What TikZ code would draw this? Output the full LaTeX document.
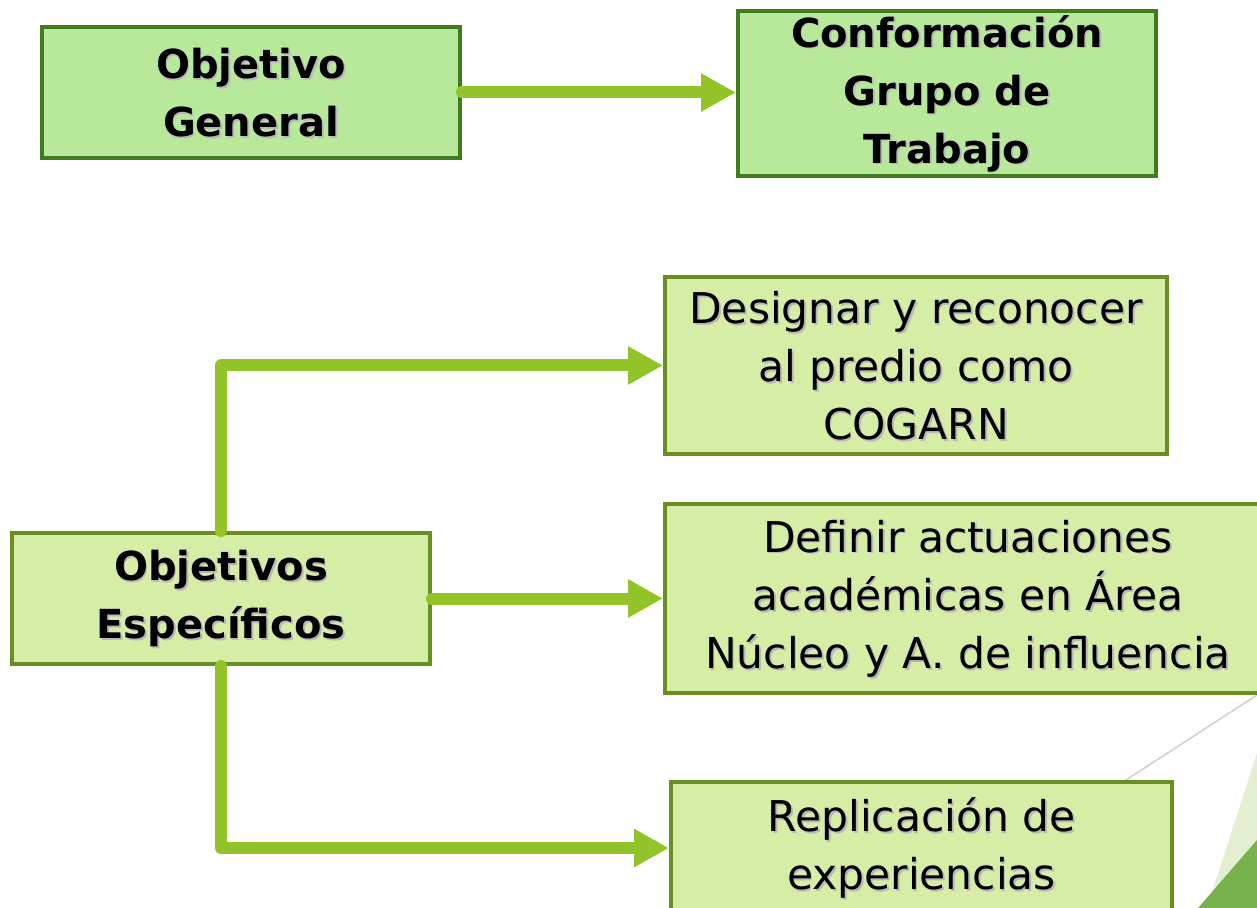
\documentclass[tikz,border=0pt]{standalone}
\usepackage{fontspec}
\setmainfont{DejaVu Sans}
\usetikzlibrary{arrows.meta}
\usetikzlibrary{positioning}
\definecolor{topfill}{HTML}{B8E99A}
\definecolor{topline}{HTML}{3F7D1C}
\definecolor{subfill}{HTML}{D6EDA5}
\definecolor{subline}{HTML}{6B8E23}
\definecolor{arrowgreen}{HTML}{92C328}
\definecolor{decolight}{HTML}{E3EFCF}
\definecolor{decodark}{HTML}{78B24C}
\newcommand\shtxt[1]{\leavevmode\rlap{\hspace{0.9pt}\raisebox{-0.9pt}[0pt][0pt]{\textcolor{black!28}{#1}}}#1}

\begin{document}
\begin{tikzpicture}[x=0.5pt,y=-0.5pt,
    topbox/.style={draw=topline,fill=topfill,line width=2pt,align=center,inner sep=0pt,
      font=\fontsize{20}{29}\selectfont\bfseries},
    subbox/.style={draw=subline,fill=subfill,line width=2pt,align=center,inner sep=0pt,
      font=\fontsize{21.2}{29}\selectfont},
    link/.style={draw=arrowgreen,line width=6pt,line cap=round,line join=round,
      -{Triangle[length=17.5pt,width=18pt]}}]
  \useasboundingbox (0,0) rectangle (1257,908);

  \draw [draw=black!18,line width=0.8pt] (1123,782) -- (1257,695);
  \fill [decolight] (1257,753) -- (1207,908) -- (1257,908) -- cycle;
  \fill [decodark] (1257,840) -- (1198,908) -- (1257,908) -- cycle;

  \node (gen) [topbox,minimum width=209pt,minimum height=65.5pt] at (251,92.5) {\shtxt{Objetivo}\\\shtxt{General}};
  \node (conf) [topbox,minimum width=209pt,minimum height=82.5pt] at (947,93.5) {\shtxt{Conformación}\\\shtxt{Grupo de}\\\shtxt{Trabajo}};

  \node (esp) [subbox,font=\fontsize{20}{29}\selectfont\bfseries,minimum width=209pt,minimum height=65.5pt] at (221,598.5) {\shtxt{Objetivos}\\\shtxt{Específicos}};
  \node (desig) [subbox,minimum width=251pt,minimum height=88.5pt] at (916,365.5) {\shtxt{Designar y reconocer}\\\shtxt{al predio como}\\\shtxt{COGARN}};
  \node (def) [subbox,minimum width=303pt,minimum height=94.5pt] at (968,598.5) {\shtxt{Definir actuaciones}\\\shtxt{académicas en Área}\\\shtxt{Núcleo y A. de influencia}};
  \node (repl) [subbox,minimum width=250.5pt,minimum height=66pt] at (921.5,848) {\shtxt{Replicación de}\\\shtxt{experiencias}};

  \draw [link] (gen.east) -- (gen.east -| conf.west);
  \draw [link] (esp.north) |- (desig.west);
  \draw [link] (esp.east) -- (def.west);
  \draw [link] (esp.south) |- (repl.west);

\end{tikzpicture}
\end{document}
